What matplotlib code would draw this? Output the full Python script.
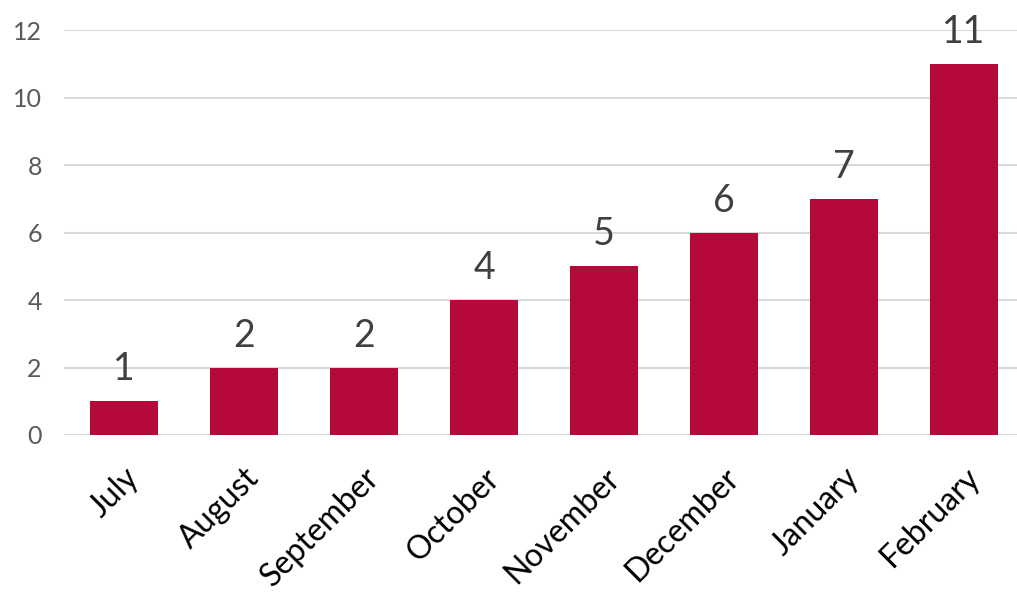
import matplotlib
matplotlib.use("Agg")
import matplotlib.pyplot as plt

months = ["July", "August", "September", "October", "November", "December", "January", "February"]
counts = [1, 2, 2, 4, 5, 6, 7, 11]
yticks = [0, 2, 4, 6, 8, 10, 12]

plt.rcParams['font.family'] = ['Lato', 'DejaVu Sans']

fig = plt.figure(figsize=(10.17, 5.94), dpi=100)
ax = fig.add_axes([64/1017, 159/594, 960/1017, 405/594])
x = list(range(len(months)))
bars = ax.bar(x, counts, width=0.567, color="#B5093A", zorder=3)
ax.set_xlim(-0.5, len(months) - 0.5)
ax.set_ylim(0, 12)
ax.set_yticks(yticks)
ax.set_yticklabels([str(t) for t in yticks], fontsize=18, color="#595959")
ax.grid(axis='y', color="#D9D9D9", linewidth=1.5, zorder=0)
ax.set_xticks(x)
ax.set_xticklabels(months, rotation=45, ha='right', rotation_mode='anchor', fontsize=23,
                   color="#000000")
for s in ax.spines.values():
    s.set_visible(False)
ax.tick_params(axis='both', length=0)
ax.tick_params(axis='y', pad=16)
ax.tick_params(axis='x', pad=20)
for xi, c in zip(x, counts):
    ax.annotate(str(c), (xi, c), xytext=(0, 10), textcoords='offset points',
                ha='center', va='bottom', fontsize=27, color="#404040", clip_on=False)
fig.savefig("out.png", dpi=100)
